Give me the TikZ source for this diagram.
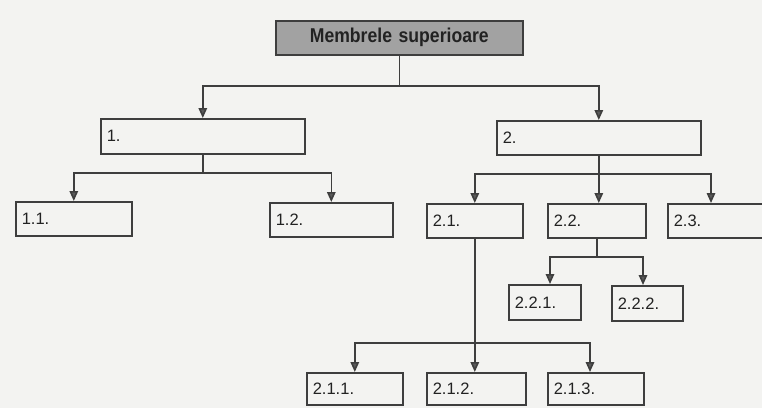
\documentclass[tikz,border=0pt]{standalone}
\usepackage{fontspec}
\setmainfont{Liberation Sans}
\newfontfamily\titlefont[FakeStretch=0.88]{Liberation Sans}
\usetikzlibrary{arrows.meta}
\definecolor{linec}{HTML}{3E3E3E}
\definecolor{txtc}{HTML}{222222}
\definecolor{bgc}{HTML}{F3F3F1}
\definecolor{titlefill}{HTML}{A2A2A2}
\tikzset{
  box/.style={draw=linec, line width=1.6bp, rectangle, anchor=north west,
    inner xsep=6bp, inner ysep=0pt, align=left, text=txtc,
    font=\fontsize{16.5bp}{18bp}\selectfont},
  titlebox/.style={box, fill=titlefill, align=center,
    font=\titlefont\bfseries\fontsize{20bp}{22bp}\selectfont},
  conn/.style={draw=linec, line width=1.6bp},
  arr/.style={conn, -{Triangle[length=10bp,width=8.5bp,fill=linec!85]}},
}
\begin{document}
\begin{tikzpicture}[x=1bp,y=-1bp]
\fill[bgc] (0,0) rectangle (762,408);
\useasboundingbox (0,0) rectangle (762,408);
\begin{scope}
\clip (0,0) rectangle (762,408);
% nodes
\node[titlebox, text width=235bp, minimum height=34bp] (top) at (275,20) {Membrele superioare};
\node[box, text width=192bp, minimum height=35bp] (n1) at (100,118) {1.};
\node[box, text width=192bp, minimum height=34bp] (n2) at (496,120) {2.};
\node[box, text width=104bp, minimum height=34bp] (n11) at (15,201) {1.1.};
\node[box, text width=111bp, minimum height=34bp] (n12) at (269,202) {1.2.};
\node[box, text width=84bp, minimum height=34bp] (n21) at (426,203) {2.1.};
\node[box, text width=86bp, minimum height=34bp] (n22) at (547,203) {2.2.};
\node[box, text width=98bp, minimum height=34bp] (n23) at (667,203) {2.3.};
\node[box, text width=60bp, minimum height=35bp] (n221) at (508,284) {2.2.1.};
\node[box, text width=59bp, minimum height=35bp] (n222) at (611,285) {2.2.2.};
\node[box, text width=84bp, minimum height=32bp] (n211) at (306,372) {2.1.1.};
\node[box, text width=87bp, minimum height=32bp] (n212) at (426,372) {2.1.2.};
\node[box, text width=84bp, minimum height=32bp] (n213) at (547,372) {2.1.3.};
% hubs
\coordinate (h0) at (top.south |- 0,86);
\coordinate (h1) at (n1.south |- 0,173);
\coordinate (h2) at (n2.south |- 0,174);
\coordinate (h21) at (n21.south |- 0,343);
\coordinate (h22) at (n22.south |- 0,257);
% connectors
\draw[conn] (top.south) -- (h0);
\draw[arr] (h0) -| (n1.north);
\draw[arr] (h0) -| (n2.north);
\draw[conn] (n1.south) -- (h1);
\draw[arr] (h1) -| (n11.north);
\draw[arr] (h1) -| (n12.north);
\draw[conn] (n2.south) -- (h2);
\draw[arr] (h2) -| (n21.north);
\draw[arr] (h2) -- (h2 |- n22.north);
\draw[arr] (h2) -| ([xshift=44bp]n23.north west);
\draw[arr] (n21.south) -- (n21.south |- n212.north);
\draw[arr] (h21) -| (n211.north);
\draw[arr] (h21) -| ([xshift=43bp]n213.north west);
\draw[conn] (n22.south) -- (h22);
\draw[arr] (h22) -| ([xshift=42bp]n221.north west);
\draw[arr] (h22) -| ([xshift=32bp]n222.north west);
\end{scope}
\end{tikzpicture}
\end{document}
